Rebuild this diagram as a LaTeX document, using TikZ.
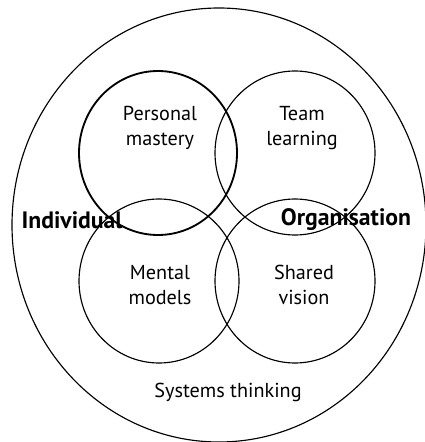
\documentclass[tikz,border=0pt]{standalone}
\usepackage{fontspec}
\setmainfont{PT Sans}
\usepackage{tikz}

\begin{document}
\begin{tikzpicture}[x=0.02cm, y=-0.02cm,
  every node/.style={font=\fontsize{11.5}{14.2}\selectfont},
  discipline/.style={align=center},
  side/.style={font=\fontsize{13.5}{16}\selectfont\bfseries},
  ring/.style={draw=black, line width=0.65pt},
  thickring/.style={draw=black, line width=1.05pt},
]
\useasboundingbox (0,0) rectangle (425,442);

% systems thinking around everything
\draw[ring] (219,225) ellipse [x radius=207, y radius=217];

\draw[ring] (295,153) ellipse [x radius=80, y radius=82];
\draw[ring] (159,281) ellipse [x radius=80, y radius=82];
\draw[ring] (295,281) ellipse [x radius=80, y radius=82];
\draw[thickring] (158,153) ellipse [x radius=79, y radius=82];

\node[discipline] at (160,128) (mastery)  {Personal\\mastery};
\node[discipline] at (302,128) (learning) {Team\\learning};
\node[discipline] at (160,285) (models)   {Mental\\models};
\node[discipline] at (304,285) (vision)   {Shared\\vision};

\node[side] at (72,220)  (individual)   {Individual};
\node[side] at (346,220) (organisation) {Organisation};

\node at (228,392) (systems) {Systems thinking};
\end{tikzpicture}
\end{document}
